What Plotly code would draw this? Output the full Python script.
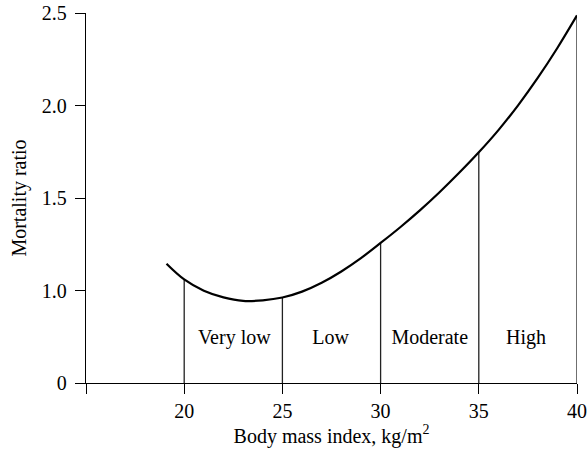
import plotly.graph_objects as go

# Curve: body mass index vs mortality ratio
bmi = [19.1, 20, 21, 22, 23, 24, 25, 26, 27, 28, 29, 30, 31, 32, 33, 34, 35, 36, 37, 38, 39, 40]
mortality = [1.145, 1.06, 0.999, 0.963, 0.944, 0.947, 0.962, 0.994, 1.042, 1.103, 1.175, 1.257,
             1.342, 1.433, 1.531, 1.636, 1.747, 1.867, 2.001, 2.149, 2.311, 2.487]

# Boundaries of risk categories and the curve value at each
boundaries = [20, 25, 30, 35, 40]
boundary_values = [1.06, 0.962, 1.257, 1.747, 2.487]

risk_labels = ["Very low", "Low", "Moderate", "High"]
risk_label_x = [22.55, 27.45, 32.5, 37.4]
risk_label_y = 0.74

x_tickvals = [15, 20, 25, 30, 35, 40]
x_ticktext = ["", "20", "25", "30", "35", "40"]
y_tickvals = [0.5, 1.0, 1.5, 2.0, 2.5]
y_ticktext = ["0", "1.0", "1.5", "2.0", "2.5"]

font = "Liberation Serif, Times New Roman, serif"

fig = go.Figure()

for b, v in zip(boundaries, boundary_values):
    fig.add_trace(go.Scatter(x=[b, b], y=[0.5, v], mode="lines",
                             line=dict(color="#222", width=1.3), showlegend=False,
                             hoverinfo="skip"))

fig.add_trace(go.Scatter(x=bmi, y=mortality, mode="lines",
                         line=dict(color="black", width=2.2, shape="spline", smoothing=1.0),
                         showlegend=False))

fig.add_trace(go.Scatter(x=risk_label_x, y=[risk_label_y] * len(risk_labels), mode="text",
                         text=risk_labels, textposition="middle center",
                         textfont=dict(family=font, size=20, color="black"),
                         showlegend=False, hoverinfo="skip"))

fig.update_layout(
    width=587, height=451,
    margin=dict(l=86, r=10, t=13, b=68),
    paper_bgcolor="white", plot_bgcolor="white",
    font=dict(family=font, size=20, color="black"),
)
fig.update_xaxes(range=[15, 40], tickvals=x_tickvals, ticktext=x_ticktext, automargin=False,
                 showgrid=False, zeroline=False, showline=True, linecolor="black", linewidth=1.3,
                 ticks="outside", ticklen=10, tickwidth=1.3, tickcolor="black",
                 tickfont=dict(family=font, size=20), ticklabelstandoff=0,
                 title=dict(text="Body mass index, kg/m<sup>2</sup>", standoff=6,
                            font=dict(family=font, size=20)))
fig.update_yaxes(range=[0.5, 2.5], tickvals=y_tickvals, ticktext=y_ticktext, automargin=False,
                 showgrid=False, zeroline=False, showline=True, linecolor="black", linewidth=1.3,
                 ticks="outside", ticklen=10, tickwidth=1.3, tickcolor="black",
                 tickfont=dict(family=font, size=20), ticklabelstandoff=4,
                 title=dict(text="Mortality ratio", standoff=9,
                            font=dict(family=font, size=20)))

# remove the default 8px page margin so the figure fills the window exactly
fig.write_html("out.html", config={"displayModeBar": False},
               post_script="document.body.style.margin='0px';")
